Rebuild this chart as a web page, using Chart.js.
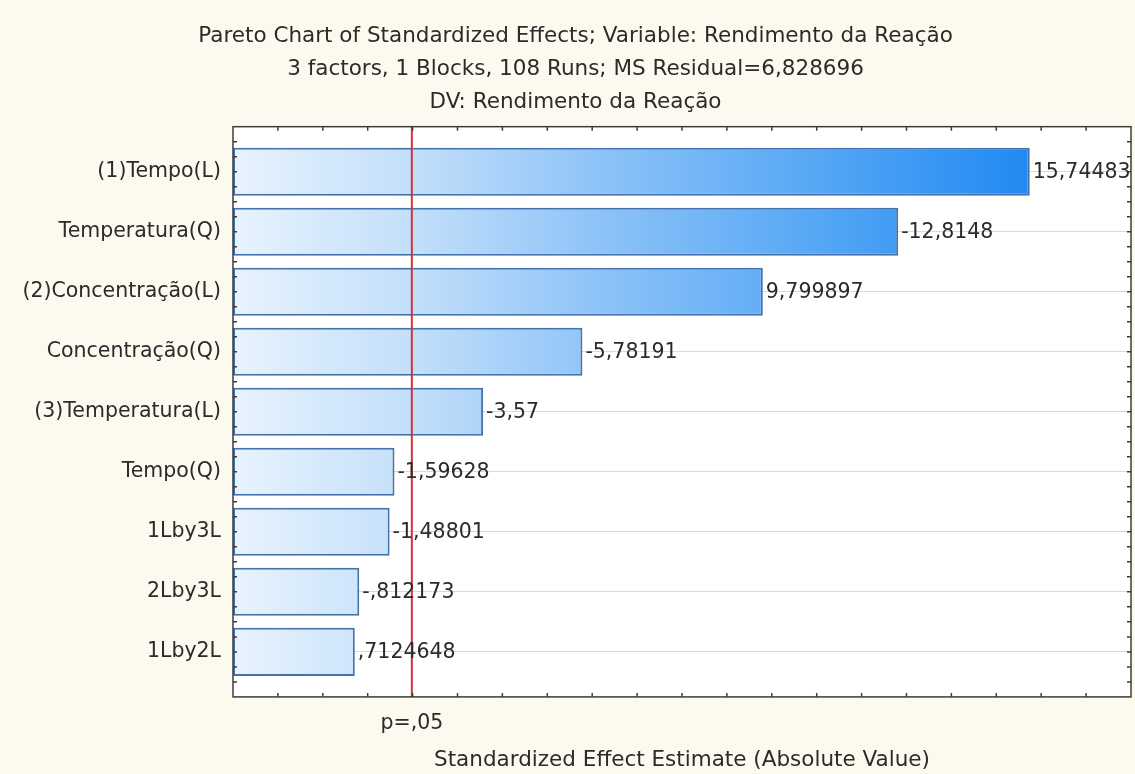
<!DOCTYPE html>
<html>
<head>
<meta charset="utf-8">
<title>Pareto Chart of Standardized Effects</title>
<script src="https://cdn.jsdelivr.net/npm/chart.js@4.4.1/dist/chart.umd.min.js"></script>
<style>
  html, body { margin: 0; padding: 0; background: #fcf9ee; }
  #wrap { width: 1135px; height: 774px; }
</style>
</head>
<body>
<div id="wrap"><canvas id="paretoChart"></canvas></div>
<script>
'use strict';

// #region ***  Data                                    ***********
const effectNames = [
  '(1)Tempo(L)',
  'Temperatura(Q)',
  '(2)Concentração(L)',
  'Concentração(Q)',
  '(3)Temperatura(L)',
  'Tempo(Q)',
  '1Lby3L',
  '2Lby3L',
  '1Lby2L'
];
const effectValues = [15.74483, -12.8148, 9.799897, -5.78191, -3.57, -1.59628, -1.48801, -0.812173, 0.7124648];
const pCritical = 1.983;
const pLabel = 'p=,05';
const titleLines = [
  'Pareto Chart of Standardized Effects; Variable: Rendimento da Reação',
  '3 factors, 1 Blocks, 108 Runs; MS Residual=6,828696',
  'DV: Rendimento da Reação'
];
const xTitle = 'Standardized Effect Estimate (Absolute Value)';
const xRange = [-2, 18];
// #endregion

const fontFamily = '"DejaVu Sans", "Liberation Sans", Arial, sans-serif';
const textColor = '#2b2b2b';

// statistica style number: 7 significant digits, comma decimal, no leading zero
const formatEffect = function (v) {
  let s = String(Number(v.toPrecision(7)));
  s = s.replace(/^(-?)0\./, '$1.');
  return s.replace('.', ',');
};

// #region ***  Plugins                                 ***********
const backgroundPlugin = {
  id: 'paretoBackground',
  beforeDraw(chart) {
    const { ctx, chartArea } = chart;
    ctx.save();
    ctx.fillStyle = '#fcf9ee';
    ctx.fillRect(0, 0, chart.width, chart.height);
    ctx.fillStyle = '#ffffff';
    ctx.fillRect(chartArea.left, chartArea.top, chartArea.right - chartArea.left, chartArea.bottom - chartArea.top);
    ctx.restore();
  }
};

const overlayPlugin = {
  id: 'paretoOverlay',
  afterDatasetsDraw(chart) {
    const { ctx, chartArea } = chart;
    const xScale = chart.scales.x;
    const yScale = chart.scales.y;
    ctx.save();

    // significance line
    const px = xScale.getPixelForValue(pCritical);
    ctx.strokeStyle = '#d2343a';
    ctx.lineWidth = 2;
    ctx.beginPath();
    ctx.moveTo(px, chartArea.top);
    ctx.lineTo(px, chartArea.bottom);
    ctx.stroke();

    // frame
    ctx.strokeStyle = '#3c3c3c';
    ctx.lineWidth = 1.5;
    ctx.strokeRect(chartArea.left, chartArea.top, chartArea.right - chartArea.left, chartArea.bottom - chartArea.top);

    // inward tick marks
    ctx.lineWidth = 1.5;
    ctx.beginPath();
    for (let v = xRange[0] + 1; v < xRange[1]; v++) {
      const x = xScale.getPixelForValue(v);
      ctx.moveTo(x, chartArea.bottom);
      ctx.lineTo(x, chartArea.bottom - 4);
      ctx.moveTo(x, chartArea.top);
      ctx.lineTo(x, chartArea.top + 4);
    }
    for (let v = yScale.min + 0.25; v < yScale.max; v += 0.25) {
      const y = yScale.getPixelForValue(v);
      ctx.moveTo(chartArea.left, y);
      ctx.lineTo(chartArea.left + 4, y);
      ctx.moveTo(chartArea.right, y);
      ctx.lineTo(chartArea.right - 4, y);
    }
    ctx.stroke();

    // value labels right of each bar
    const meta = chart.getDatasetMeta(0);
    ctx.fillStyle = textColor;
    ctx.font = `20.5px ${fontFamily}`;
    ctx.textAlign = 'left';
    ctx.textBaseline = 'middle';
    meta.data.forEach(function (bar, i) {
      ctx.fillText(formatEffect(effectValues[i]), bar.x + 3, bar.y + 1);
    });
    ctx.restore();
  }
};
// #endregion

// #region ***  Chart                                   ***********
const barGradient = function (context) {
  const area = context.chart.chartArea;
  if (!area) return '#8fc3f5';
  const g = context.chart.ctx.createLinearGradient(area.left, 0, area.right, 0);
  g.addColorStop(0, '#e8f3fe');
  g.addColorStop(0.2, '#c3dffa');
  g.addColorStop(0.4, '#8fc4f8');
  g.addColorStop(0.65, '#56a7f5');
  g.addColorStop(0.9, '#1d88f2');
  g.addColorStop(1, '#1480ef');
  return g;
};

const init = function () {
  const ctx = document.getElementById('paretoChart').getContext('2d');
  new Chart(ctx, {
    type: 'bar',
    data: {
      datasets: [{
        data: effectValues.map((v, i) => ({ x: Math.abs(v), y: i })),
        base: xRange[0],
        backgroundColor: barGradient,
        borderColor: '#4572ad',
        borderWidth: 2,
        borderSkipped: false,
        categoryPercentage: 1,
        barPercentage: 0.8
      }]
    },
    options: {
      indexAxis: 'y',
      responsive: true,
      maintainAspectRatio: false,
      animation: false,
      layout: { padding: { left: 20, right: 4, top: 0, bottom: 3 } },
      plugins: {
        legend: { display: false },
        tooltip: { enabled: false },
        title: {
          display: true,
          text: titleLines,
          color: textColor,
          font: { family: fontFamily, size: 21.5, weight: 'normal', lineHeight: 1.53 },
          padding: { top: 20, bottom: 8 }
        }
      },
      scales: {
        x: {
          type: 'linear',
          min: xRange[0],
          max: xRange[1],
          grid: { display: false, drawTicks: false },
          border: { display: false },
          afterBuildTicks: function (scale) {
            scale.ticks = [{ value: pCritical }];
          },
          ticks: {
            autoSkip: false,
            maxRotation: 0,
            padding: 14,
            color: textColor,
            font: { family: fontFamily, size: 20.5 },
            callback: () => pLabel
          },
          title: {
            display: true,
            text: xTitle,
            color: textColor,
            font: { family: fontFamily, size: 21.5, lineHeight: 1.0 },
            padding: { top: 0, bottom: 0 }
          }
        },
        y: {
          type: 'linear',
          reverse: true,
          offset: false,
          min: -0.75,
          max: effectNames.length - 0.25,
          afterBuildTicks: function (scale) {
            scale.ticks = effectNames.map((n, i) => ({ value: i }));
          },
          afterFit: function (scale) {
            scale.width = 213;
          },
          grid: { color: '#d9d9d9', lineWidth: 1, drawTicks: false, offset: false },
          border: { display: false },
          ticks: {
            autoSkip: false,
            padding: 12,
            color: textColor,
            font: { family: fontFamily, size: 20.5 },
            callback: (v) => effectNames[v]
          }
        }
      }
    },
    plugins: [backgroundPlugin, overlayPlugin]
  });
};

document.addEventListener('DOMContentLoaded', init);
// #endregion
</script>
</body>
</html>
